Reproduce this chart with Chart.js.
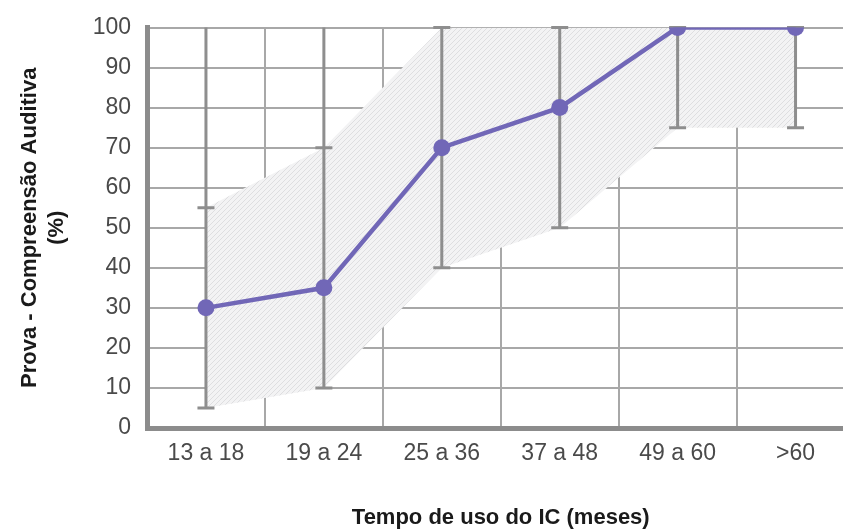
<!DOCTYPE html>
<html>
<head>
<meta charset="utf-8">
<script src="https://cdn.jsdelivr.net/npm/chart.js@4"></script>
<style>
  html, body { margin: 0; padding: 0; background: #fff; overflow: hidden; }
  #wrap { width: 863px; height: 531px; position: relative; }
</style>
</head>
<body>
<div id="wrap"><canvas id="c"></canvas></div>
<script>
// dados
const categories = ['13 a 18', '19 a 24', '25 a 36', '37 a 48', '49 a 60', '>60'];
const medianValues = [30, 35, 70, 80, 100, 100];
const lowerValues = [5, 10, 40, 50, 75, 75];
const upperValues = [55, 70, 100, 100, 100, 100];
const maxValues = [100, 100, 100, 100, 100, 100];

// padrão hachurado da faixa cinza
function makeHatch() {
    const pc = document.createElement('canvas');
    pc.width = 5; pc.height = 5;
    const p = pc.getContext('2d');
    p.fillStyle = '#f3f3f4';
    p.fillRect(0, 0, 5, 5);
    p.strokeStyle = '#dedee0';
    p.lineWidth = 1;
    p.beginPath();
    p.moveTo(0, 5); p.lineTo(5, 0);
    p.moveTo(-1, 1); p.lineTo(1, -1);
    p.moveTo(4, 6); p.lineTo(6, 4);
    p.stroke();
    return p.createPattern(pc, 'repeat');
}

// barras verticais (mín até máx) com traços nas extremidades
const whiskerPlugin = {
    id: 'whiskers',
    beforeDatasetDraw(chart, args) {
        if (args.index !== 2) return;
        const { ctx, scales: { x, y } } = chart;
        ctx.save();
        ctx.strokeStyle = '#8e8e8e';
        ctx.lineWidth = 3;
        const cap = 8.5;
        categories.forEach((c, i) => {
            const px = x.getPixelForValue(i);
            const yLow = y.getPixelForValue(lowerValues[i]);
            const yUp = y.getPixelForValue(upperValues[i]);
            const yMax = y.getPixelForValue(maxValues[i]);
            ctx.beginPath();
            ctx.moveTo(px, yLow);
            ctx.lineTo(px, yMax);
            ctx.moveTo(px - cap, yLow);
            ctx.lineTo(px + cap, yLow);
            ctx.moveTo(px - cap, yUp);
            ctx.lineTo(px + cap, yUp);
            ctx.stroke();
        });
        ctx.restore();
    }
};

const gridColor = '#a8a8a8';
const tickFont = { family: 'Liberation Sans, Arial, sans-serif', size: 23 };
const yTickFont = { family: 'Liberation Sans, Arial, sans-serif', size: 23, lineHeight: 1 };
const titleFont = { family: 'Liberation Sans, Arial, sans-serif', size: 22, weight: 'bold' };

new Chart(document.getElementById('c'), {
    type: 'line',
    data: {
        labels: categories,
        datasets: [
            {
                label: 'faixa superior',
                data: upperValues,
                fill: '+1',
                backgroundColor: makeHatch(),
                borderWidth: 0,
                pointRadius: 0,
                order: 2
            },
            {
                label: 'faixa inferior',
                data: lowerValues,
                fill: false,
                borderWidth: 0,
                pointRadius: 0,
                order: 1
            },
            {
                label: 'Compreensão auditiva',
                data: medianValues,
                borderColor: '#7167b7',
                backgroundColor: '#7167b7',
                borderWidth: 4.5,
                pointRadius: 8.5,
                pointHoverRadius: 8.5,
                pointBackgroundColor: '#7167b7',
                pointBorderWidth: 0,
                fill: false,
                tension: 0,
                order: 0
            }
        ]
    },
    options: {
        responsive: true,
        maintainAspectRatio: false,
        animation: false,
        layout: { padding: { left: 0, right: 0, top: 12, bottom: 0 } },
        plugins: {
            legend: { display: false },
            tooltip: { enabled: false },
            filler: { propagate: false }
        },
        scales: {
            x: {
                type: 'category',
                offset: true,
                grid: { offset: true, color: gridColor, lineWidth: 2, drawTicks: false },
                border: { display: true, color: '#8c8c8c', width: 5 },
                ticks: { font: tickFont, color: '#4a4a4a', padding: 12, maxRotation: 0 },
                title: {
                    display: true,
                    text: 'Tempo de uso do IC (meses)',
                    font: titleFont,
                    color: '#1a1a1a',
                    padding: { top: 0, bottom: 0 }
                },
                afterFit(scale) { scale.height = 103; }
            },
            y: {
                min: 0,
                max: 100,
                ticks: { stepSize: 10, font: yTickFont, color: '#4a4a4a', padding: 16 },
                grid: { color: gridColor, lineWidth: 2, drawTicks: false },
                border: { display: true, color: '#8c8c8c', width: 5 },
                title: {
                    display: true,
                    text: ['Prova - Compreensão Auditiva', '(%)'],
                    font: titleFont,
                    color: '#1a1a1a',
                    padding: { top: 17, bottom: 0 }
                },
                afterFit(scale) { scale.width = 147; }
            }
        }
    },
    plugins: [whiskerPlugin]
});
</script>
</body>
</html>
